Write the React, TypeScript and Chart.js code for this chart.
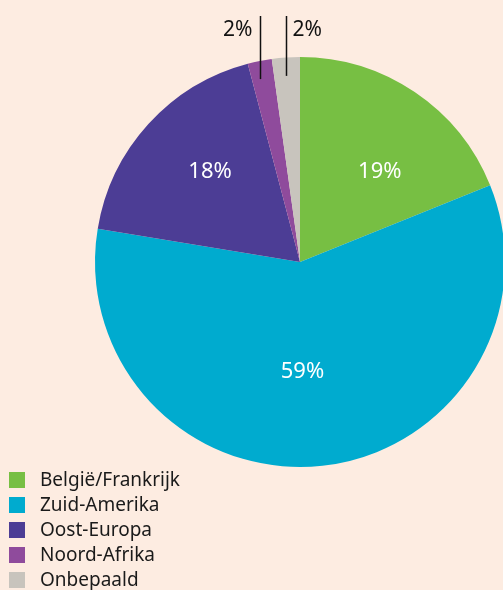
import React, { useEffect, useRef } from "react";
import { Chart, registerables } from "chart.js";

Chart.register(...registerables);

const categories = ["België/Frankrijk", "Zuid-Amerika", "Oost-Europa", "Noord-Afrika", "Onbepaald"];
const shares = [18.9, 58.7, 18.3, 1.9, 2.2];
const colors = ["#77bf43", "#00abcf", "#4c3d95", "#8f4b9c", "#c8c4bd"];
const BG = "#fdece1";
const FONT = "'Noto Sans', 'Open Sans', sans-serif";

const labelPlugin = {
  id: "pctLabels",
  afterDatasetsDraw(chart: any, _args: any, opts: any) {
    const ctx = chart.ctx;
    const meta = chart.getDatasetMeta(0);
    const data = chart.data.datasets[0].data as number[];
    const nudges = (opts && opts.nudges) || [];
    const n = data.length;
    ctx.save();
    ctx.font = `22px ${FONT}`;
    meta.data.forEach((arc: any, i: number) => {
      const { x, y, startAngle, endAngle, outerRadius } = arc.getProps(
        ["x", "y", "startAngle", "endAngle", "outerRadius"],
        true
      );
      const mid = (startAngle + endAngle) / 2;
      const txt = Math.round(data[i]) + "%";
      if (data[i] >= 5) {
        const r = outerRadius * 0.6;
        const nd = nudges[i] || [0, 0];
        ctx.fillStyle = "#ffffff";
        ctx.textAlign = "center";
        ctx.textBaseline = "middle";
        ctx.fillText(txt, x + Math.cos(mid) * r + nd[0], y + Math.sin(mid) * r + nd[1]);
      } else {
        const lx = Math.round(x + Math.cos(mid) * outerRadius) + 0.5;
        const ly = y + Math.sin(mid) * outerRadius * 0.91;
        ctx.strokeStyle = "#111111";
        ctx.lineWidth = 1.5;
        ctx.beginPath();
        ctx.moveTo(lx, ly);
        ctx.lineTo(lx, 16);
        ctx.stroke();
        ctx.fillStyle = "#111111";
        ctx.textBaseline = "alphabetic";
        ctx.font = `21px ${FONT}`;
        if (i === n - 1) {
          ctx.textAlign = "left";
          ctx.fillText(txt, lx + 6, 36);
        } else {
          ctx.textAlign = "right";
          ctx.fillText(txt, lx - 8, 36);
        }
        ctx.font = `22px ${FONT}`;
      }
    });
    ctx.restore();
  },
};

export default function App() {
  const ref = useRef<HTMLCanvasElement | null>(null);
  useEffect(() => {
    document.body.style.margin = "0";
    document.body.style.overflow = "hidden";
    document.body.style.background = BG;
    const chart = new Chart(ref.current as HTMLCanvasElement, {
      type: "pie",
      data: {
        labels: categories,
        datasets: [
          {
            data: shares,
            backgroundColor: colors,
            borderWidth: 0,
          },
        ],
      },
      options: {
        animation: false,
        responsive: false,
        devicePixelRatio: 1,
        layout: { padding: { left: 95, top: 57, right: 95, bottom: 123 } },
        plugins: {
          legend: { display: false },
          tooltip: { enabled: false },
          pctLabels: { nudges: [[11, 12], [-11, -13], [1, -7]] },
        } as any,
      },
      plugins: [labelPlugin],
    });
    return () => chart.destroy();
  }, []);

  return (
    <div style={{ position: "relative", width: 503, height: 590, overflow: "hidden", background: BG }}>
      <canvas ref={ref} width={600} height={590} style={{ position: "absolute", left: 0, top: 0, width: 600, height: 590 }} />
      <div style={{ position: "absolute", left: 9, top: 467, fontFamily: FONT, fontSize: 19, color: "#1a1a1a" }}>
        {categories.map((c, i) => (
          <div key={c} style={{ display: "flex", alignItems: "center", height: 25 }}>
            <span style={{ width: 16, height: 16, background: colors[i], display: "inline-block", marginRight: 15 }} />
            <span style={{ lineHeight: "25px" }}>{c}</span>
          </div>
        ))}
      </div>
    </div>
  );
}
